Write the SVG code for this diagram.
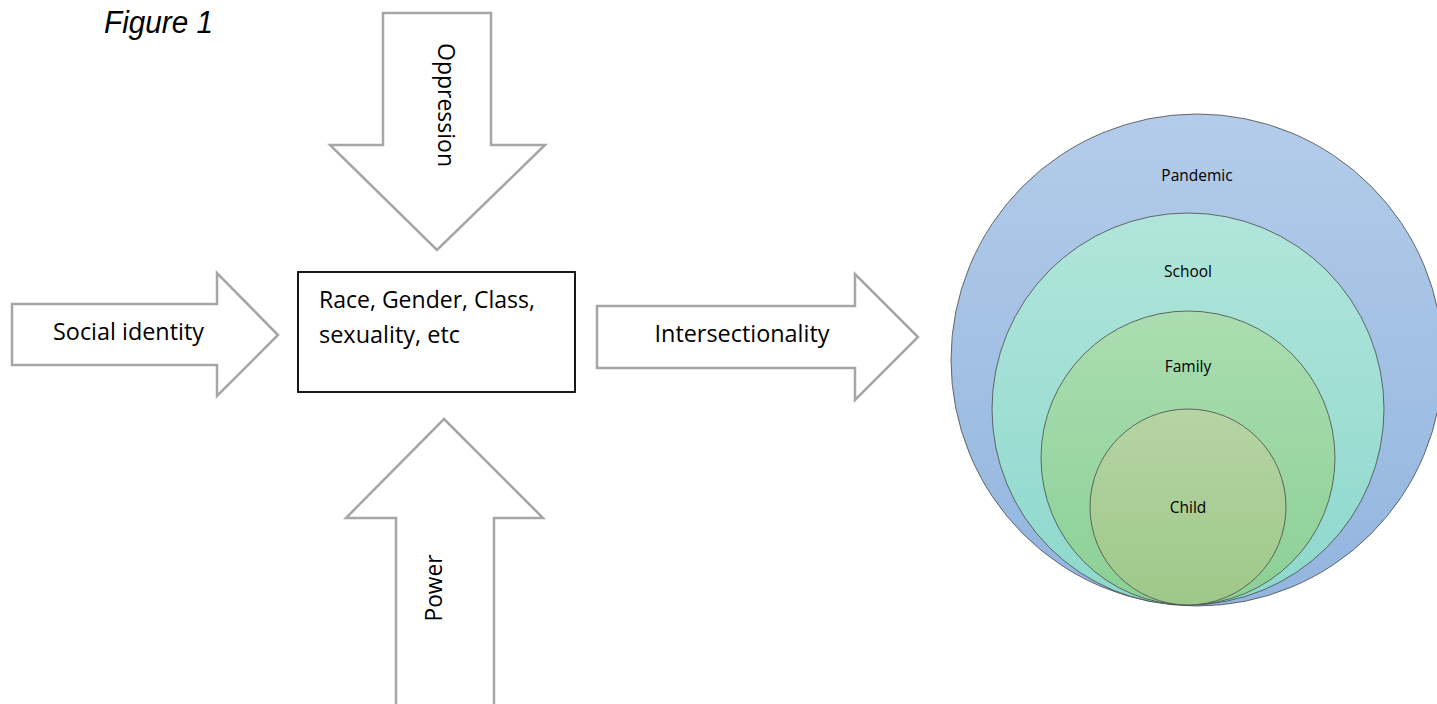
<svg xmlns="http://www.w3.org/2000/svg" width="1437" height="704" viewBox="0 0 1437 704">
  <style>
    .blk { fill: #ffffff; stroke: #a6a6a6; stroke-width: 2.5; stroke-linejoin: miter; }
    .lbl { font-family: "Open Sans", "Lato", sans-serif; font-size: 23.5px; fill: #000000; }
    .ring { stroke: #4a4a4a; stroke-width: 1; stroke-opacity: 0.8; }
    .rlbl { font-family: "Open Sans", "Lato", sans-serif; font-size: 15.5px; fill: #000000; text-anchor: middle; }
    .title { font-family: "Liberation Sans", Arial, sans-serif; font-style: italic; font-size: 31px; fill: #000000; }
  </style>
  <defs>
    <linearGradient id="gPandemic" x1="0" y1="0" x2="0" y2="1">
      <stop offset="0" stop-color="#b3cce9"/>
      <stop offset="1" stop-color="#92b5df"/>
    </linearGradient>
    <linearGradient id="gSchool" x1="0" y1="0" x2="0" y2="1">
      <stop offset="0" stop-color="#b1e5db"/>
      <stop offset="1" stop-color="#8dd8cc"/>
    </linearGradient>
    <linearGradient id="gFamily" x1="0" y1="0" x2="0" y2="1">
      <stop offset="0" stop-color="#abddb1"/>
      <stop offset="1" stop-color="#8bd095"/>
    </linearGradient>
    <linearGradient id="gChild" x1="0" y1="0" x2="0" y2="1">
      <stop offset="0" stop-color="#b6d4a4"/>
      <stop offset="1" stop-color="#9ec889"/>
    </linearGradient>
  </defs>

  <rect width="1437" height="704" fill="#ffffff"/>

  <text class="title" x="104" y="33" textLength="109" lengthAdjust="spacingAndGlyphs">Figure 1</text>

  <!-- block arrows pointing at the central box -->
  <g id="connectors">
    <g id="arrow-oppression">
      <polygon class="blk" points="383,13 491,13 491,145 545,145 437,250 330,145 383,145"/>
      <text class="lbl" transform="translate(438,105) rotate(90)" text-anchor="middle" textLength="124" lengthAdjust="spacingAndGlyphs">Oppression</text>
    </g>
    <g id="arrow-social-identity">
      <polygon class="blk" points="12,304 217,304 217,273 278,335 217,396 217,365 12,365"/>
      <text class="lbl" x="128.5" y="340" text-anchor="middle" textLength="151" lengthAdjust="spacingAndGlyphs">Social identity</text>
    </g>
    <g id="arrow-power">
      <polygon class="blk" points="444,419 543,518 494,518 494,712 396,712 396,518 346,518"/>
      <text class="lbl" transform="translate(442,588) rotate(-90)" text-anchor="middle" textLength="67" lengthAdjust="spacingAndGlyphs">Power</text>
    </g>
    <g id="arrow-intersectionality">
      <polygon class="blk" points="597,306 855,306 855,274 918,337 855,400 855,368 597,368"/>
      <text class="lbl" x="742" y="342" text-anchor="middle" textLength="175" lengthAdjust="spacingAndGlyphs">Intersectionality</text>
    </g>
  </g>

  <!-- central box -->
  <g id="node-identities">
    <rect x="298" y="272" width="277" height="120" fill="#ffffff" stroke="#000000" stroke-width="1.8"/>
    <text class="lbl" x="319" y="308" textLength="216" lengthAdjust="spacingAndGlyphs">Race, Gender, Class,</text>
    <text class="lbl" x="319" y="343" textLength="141" lengthAdjust="spacingAndGlyphs">sexuality, etc</text>
  </g>

  <!-- nested circles, all touching at the bottom -->
  <g id="node-pandemic">
    <circle class="ring" cx="1197" cy="360" r="246" fill="url(#gPandemic)"/>
    <text class="rlbl" x="1197" y="181">Pandemic</text>
  </g>
  <g id="node-school">
    <circle class="ring" cx="1188" cy="409" r="196" fill="url(#gSchool)"/>
    <text class="rlbl" x="1188" y="277">School</text>
  </g>
  <g id="node-family">
    <circle class="ring" cx="1188" cy="458" r="147" fill="url(#gFamily)"/>
    <text class="rlbl" x="1188" y="372">Family</text>
  </g>
  <g id="node-child">
    <circle class="ring" cx="1188" cy="507" r="98" fill="url(#gChild)"/>
    <text class="rlbl" x="1188" y="513">Child</text>
  </g>
</svg>
